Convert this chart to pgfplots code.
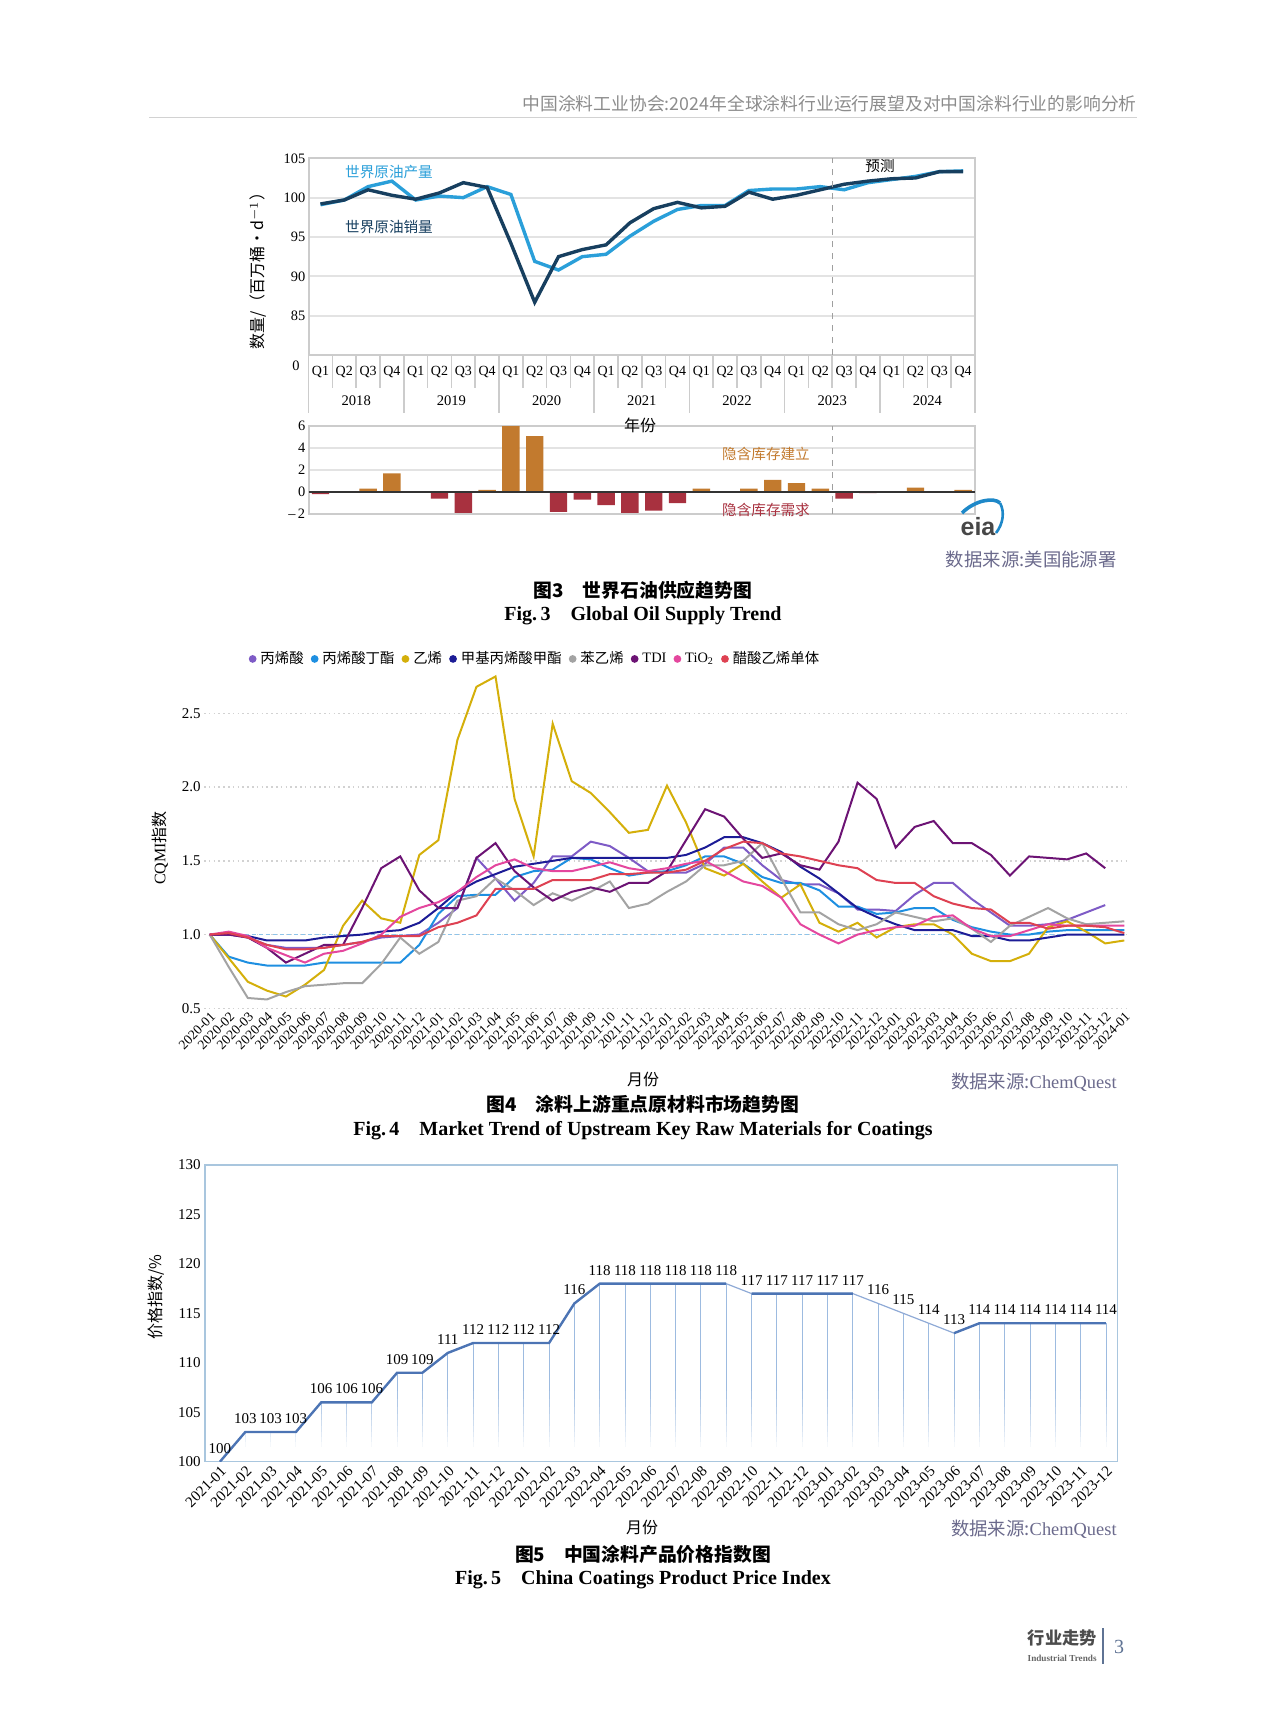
\documentclass[border=0pt]{standalone}
\usepackage{pgfplots}
\pgfplotsset{compat=1.18}
\usepackage{pgfplotstable}
\usepackage{fontspec}
\setmainfont{Liberation Serif}
\newfontfamily\cjk{Noto Sans CJK SC}
\newfontfamily\lsans{Liberation Sans}
\definecolor{hdrgray}{HTML}{8C8C8C}
\definecolor{hdrline}{HTML}{D2D2D2}
\definecolor{prodblue}{HTML}{2A9FD9}
\definecolor{consblue}{HTML}{173F5F}
\definecolor{orangebar}{HTML}{C27A2E}
\definecolor{redbar}{HTML}{A8313F}
\definecolor{srccol}{HTML}{6B6A8C}
\definecolor{cacr}{HTML}{7E5BC6}
\definecolor{cba}{HTML}{1E8FE1}
\definecolor{ceth}{HTML}{D4AF0A}
\definecolor{cmma}{HTML}{1C1C96}
\definecolor{csty}{HTML}{A3A3A3}
\definecolor{ctdi}{HTML}{6C1374}
\definecolor{ctio}{HTML}{E4479E}
\definecolor{cvam}{HTML}{DE4152}
\definecolor{refblue}{HTML}{8EC4EA}
\definecolor{fvframe}{HTML}{A9C6DE}
\definecolor{fvline}{HTML}{4C74B4}
\definecolor{fvthin}{HTML}{8FAAD6}
\definecolor{fvcomb}{HTML}{9DBBE0}
\definecolor{eiablue}{HTML}{1E88C8}
\definecolor{footbar}{HTML}{5F7394}

\pgfplotstableread{
m acr ba eth mma sty tdi tio vam
0 1.00 1.00 1.00 1.00 1.00 1.00 1.00 1.00
1 1.00 0.85 0.84 1.00 0.78 1.00 1.02 1.01
2 0.98 0.81 0.68 0.99 0.57 0.98 0.99 0.98
3 0.93 0.79 0.62 0.96 0.56 0.91 0.91 0.93
4 0.91 0.79 0.58 0.96 0.61 0.81 0.86 0.90
5 0.91 0.79 0.66 0.96 0.65 0.87 0.81 0.90
6 0.91 0.81 0.76 0.98 0.66 0.93 0.87 0.91
7 0.93 0.81 1.06 0.99 0.67 0.93 0.89 0.93
8 0.95 0.81 1.23 1.00 0.67 1.18 0.94 0.95
9 0.98 0.81 1.11 1.02 0.80 1.45 1.00 0.99
10 0.99 0.81 1.08 1.03 0.98 1.53 1.12 0.99
11 1.00 0.93 1.54 1.08 0.87 1.30 1.18 0.99
12 1.08 1.14 1.64 1.18 0.95 1.18 1.22 1.05
13 1.18 1.26 2.32 1.29 1.23 1.18 1.29 1.08
14 1.52 1.27 2.68 1.36 1.26 1.52 1.39 1.13
15 1.38 1.27 2.75 1.41 1.38 1.62 1.47 1.31
16 1.23 1.39 1.92 1.46 1.30 1.43 1.51 1.31
17 1.35 1.43 1.53 1.48 1.20 1.32 1.45 1.31
18 1.53 1.44 2.43 1.50 1.28 1.23 1.43 1.37
19 1.53 1.52 2.04 1.52 1.23 1.29 1.43 1.37
20 1.63 1.51 1.96 1.52 1.29 1.32 1.46 1.37
21 1.60 1.45 1.83 1.52 1.36 1.29 1.49 1.41
22 1.52 1.40 1.69 1.52 1.18 1.35 1.45 1.41
23 1.43 1.42 1.71 1.52 1.21 1.35 1.43 1.42
24 1.42 1.43 2.01 1.52 1.29 1.43 1.45 1.42
25 1.42 1.47 1.76 1.54 1.36 1.64 1.48 1.44
26 1.48 1.53 1.45 1.59 1.47 1.85 1.50 1.50
27 1.59 1.53 1.40 1.66 1.47 1.80 1.43 1.58
28 1.59 1.48 1.48 1.66 1.50 1.65 1.36 1.63
29 1.47 1.39 1.36 1.62 1.62 1.52 1.33 1.62
30 1.37 1.35 1.25 1.56 1.38 1.55 1.25 1.55
31 1.34 1.35 1.34 1.46 1.15 1.47 1.07 1.53
32 1.34 1.30 1.08 1.38 1.15 1.44 1.00 1.50
33 1.28 1.19 1.02 1.28 1.07 1.63 0.94 1.47
34 1.17 1.19 1.08 1.18 1.03 2.03 1.00 1.45
35 1.17 1.14 0.98 1.12 1.07 1.92 1.03 1.37
36 1.16 1.15 1.05 1.07 1.15 1.59 1.05 1.35
37 1.27 1.18 1.07 1.03 1.12 1.73 1.06 1.35
38 1.35 1.18 1.07 1.03 1.09 1.77 1.12 1.26
39 1.35 1.10 1.00 1.03 1.11 1.62 1.13 1.21
40 1.24 1.05 0.87 0.99 1.04 1.62 1.04 1.18
41 1.15 1.02 0.82 0.99 0.95 1.54 0.99 1.17
42 1.06 1.00 0.82 0.96 1.06 1.40 0.99 1.08
43 1.06 1.00 0.87 0.96 1.12 1.53 1.03 1.08
44 1.07 1.02 1.05 0.98 1.18 1.52 1.07 1.04
45 1.10 1.03 1.09 1.00 1.11 1.51 1.06 1.06
46 1.15 1.03 1.02 1.00 1.07 1.55 1.06 1.06
47 1.20 1.03 0.94 1.00 1.08 1.45 1.06 1.05
48 nan 1.03 0.96 1.00 1.09 nan 1.06 1.01
}\fourdata

\pgfplotstableread{
m v
0 100
1 103
2 103
3 103
4 106
5 106
6 106
7 109
8 109
9 111
10 112
11 112
12 112
13 112
14 116
15 118
16 118
17 118
18 118
19 118
20 118
21 117
22 117
23 117
24 117
25 117
26 116
27 115
28 114
29 113
30 114
31 114
32 114
33 114
34 114
35 114
}\fivedata

\pgfplotsset{/pgf/number format/assume math mode=true}

\begin{document}
\begin{tikzpicture}[x=0.5pt,y=-0.5pt]
\useasboundingbox (0,0) rectangle (1280,1724);

% header
\node[anchor=east, inner sep=0, text=hdrgray, font=\cjk\fontsize{8.9}{10}\selectfont] at (1137,104) {中国涂料工业协会:2024年全球涂料行业运行展望及对中国涂料行业的影响分析};
\draw[hdrline, line width=0.8pt] (149,117.5) -- (1137,117.5);

% ===== Fig 3 top =====
\coordinate (f3a) at (308.6,355);
\begin{axis}[at={(f3a)}, anchor=south west, scale only axis,
  width=333.2pt, height=98.35pt,
  xmin=0, xmax=28, ymin=80, ymax=105,
  ytick={85,90,95,100,105}, xtick=\empty,
  ymajorgrids, grid style={gray!22, line width=1.1pt},
  axis line style={gray!40, line width=0.9pt},
  major tick style={draw=none},
  yticklabel style={font=\fontsize{7.2}{8}\selectfont, inner sep=1.5pt},
  clip=false]
\addplot[prodblue, line width=1.7pt] coordinates {
(0.5,99.1)(1.5,99.7)(2.5,101.4)(3.5,102.1)(4.5,99.7)(5.5,100.2)(6.5,100.0)(7.5,101.4)
(8.5,100.4)(9.5,91.9)(10.5,90.8)(11.5,92.5)(12.5,92.8)(13.5,95.1)(14.5,97.0)(15.5,98.5)
(16.5,99.0)(17.5,99.0)(18.5,100.9)(19.5,101.1)(20.5,101.1)(21.5,101.4)(22.5,101.0)(23.5,101.9)
(24.5,102.3)(25.5,102.7)(26.5,103.3)(27.5,103.4)};
\addplot[consblue, line width=1.7pt] coordinates {
(0.5,99.2)(1.5,99.7)(2.5,101.0)(3.5,100.3)(4.5,99.8)(5.5,100.6)(6.5,101.9)(7.5,101.3)
(8.5,94.2)(9.5,86.7)(10.5,92.5)(11.5,93.4)(12.5,94.0)(13.5,96.8)(14.5,98.6)(15.5,99.4)
(16.5,98.7)(17.5,98.9)(18.5,100.7)(19.5,99.8)(20.5,100.3)(21.5,101.0)(22.5,101.7)(23.5,102.1)
(24.5,102.4)(25.5,102.5)(26.5,103.3)(27.5,103.3)};
\draw[gray!75, dashed, line width=0.6pt] (axis cs:22,80) -- (axis cs:22,105);
\end{axis}
% quarter / year rows
\foreach \k in {0,...,28} {\draw[gray!40, line width=0.8pt] ({308.6+23.8*\k},355) -- ({308.6+23.8*\k},388);}
\foreach \k in {0,4,...,28} {\draw[gray!40, line width=0.8pt] ({308.6+23.8*\k},355) -- ({308.6+23.8*\k},413);}
\foreach \k in {1,...,28} {\pgfmathtruncatemacro\q{mod(\k-1,4)+1}
  \node[font=\fontsize{7}{8}\selectfont, inner sep=0] at ({308.6+23.8*(\k-0.5)},372) {Q\q};}
\foreach \yr [count=\j] in {2018,2019,2020,2021,2022,2023,2024}
  {\node[font=\fontsize{7.3}{8}\selectfont, inner sep=0] at ({308.6+95.2*(\j-0.5)},401) {\yr};}
\node[font=\fontsize{7.2}{8}\selectfont, inner sep=0] at (296,366) {0};
\node[rotate=90, font=\cjk\fontsize{8}{9}\selectfont, inner sep=0] at (258,267) {数量/（百万桶·d$^{-1}$）};
\node[font=\cjk\fontsize{7.3}{8}\selectfont, text=prodblue, inner sep=0] at (389,172) {世界原油产量};
\node[font=\cjk\fontsize{7.3}{8}\selectfont, text=consblue, inner sep=0] at (389,227) {世界原油销量};
\node[font=\cjk\fontsize{7.3}{8}\selectfont, inner sep=0] at (880,166) {预测};

% ===== Fig 3 bars =====
\coordinate (f3b) at (308.6,514);
\begin{axis}[at={(f3b)}, anchor=south west, scale only axis,
  width=333.2pt, height=43.95pt,
  xmin=0, xmax=28, ymin=-2, ymax=6,
  ytick={-2,0,2,4,6}, yticklabels={–\,2,0,2,4,6}, xtick=\empty,
  ymajorgrids, grid style={gray!22, line width=1.1pt},
  axis line style={gray!40, line width=0.9pt},
  major tick style={draw=none},
  yticklabel style={font=\fontsize{7.2}{8}\selectfont, inner sep=1.5pt},
  clip=false]
\addplot[ybar, bar width=8.7pt, bar shift=0pt, fill=orangebar, draw=none] coordinates {
(2.5,0.3)(3.5,1.7)(7.5,0.2)(8.5,6.0)(9.5,5.1)(16.5,0.3)(18.5,0.3)(19.5,1.1)(20.5,0.8)(21.5,0.3)(25.5,0.4)(27.5,0.2)};
\addplot[ybar, bar width=8.7pt, bar shift=0pt, fill=redbar, draw=none] coordinates {
(0.5,-0.2)(5.5,-0.6)(6.5,-1.9)(10.5,-1.8)(11.5,-0.7)(12.5,-1.2)(13.5,-1.9)(14.5,-1.7)(15.5,-1.0)(22.5,-0.6)(23.5,-0.1)};
\draw[black!80, line width=1.1pt] (axis cs:0,0) -- (axis cs:28,0);
\draw[gray!75, dashed, line width=0.6pt] (axis cs:22,-2) -- (axis cs:22,6);
\end{axis}
\node[font=\cjk\fontsize{8}{9}\selectfont, inner sep=0] at (640,425) {年份};
\node[font=\cjk\fontsize{7.3}{8}\selectfont, text=orangebar, inner sep=0] at (766,454) {隐含库存建立};
\node[font=\cjk\fontsize{7.3}{8}\selectfont, text=redbar, inner sep=0] at (766,510) {隐含库存需求};
% eia logo
\node[font=\lsans\bfseries\fontsize{12.5}{12.5}\selectfont, text=black!72, inner sep=0] at (978,527) {eia};
\draw[eiablue, line width=1.8pt] (962,513) .. controls (975,500) and (994,497) .. (1000,503);
\draw[eiablue, line width=1.3pt] (1000,503) .. controls (1005,512) and (1003,524) .. (996,533);
% source + caption
\node[anchor=east, font=\cjk\fontsize{9.2}{10}\selectfont, text=srccol, inner sep=0] at (1117,559) {数据来源:美国能源署};
\node[font=\cjk\bfseries\fontsize{9.4}{10}\selectfont, inner sep=0] at (643,590) {图3\quad 世界石油供应趋势图};
\node[font=\bfseries\fontsize{10}{11}\selectfont, inner sep=0] at (643,616) {Fig.\,3\quad Global Oil Supply Trend};

% ===== Fig 4 =====
\coordinate (f4) at (204,1008.3);
\begin{axis}[at={(f4)}, anchor=south west, scale only axis,
  width=463pt, height=169.6pt,
  xmin=-0.3, xmax=48.3, ymin=0.5, ymax=2.8,
  ytick={0.5,1,1.5,2,2.5},
  yticklabel style={font=\fontsize{7.5}{8}\selectfont, inner sep=1.5pt, /pgf/number format/.cd, fixed, fixed zerofill, precision=1},
  xtick={0,...,48},
  xticklabels={2020-01,2020-02,2020-03,2020-04,2020-05,2020-06,2020-07,2020-08,2020-09,2020-10,2020-11,2020-12,
    2021-01,2021-02,2021-03,2021-04,2021-05,2021-06,2021-07,2021-08,2021-09,2021-10,2021-11,2021-12,
    2022-01,2022-02,2022-03,2022-04,2022-05,2022-06,2022-07,2022-08,2022-09,2022-10,2022-11,2022-12,
    2023-01,2023-02,2023-03,2023-04,2023-05,2023-06,2023-07,2023-08,2023-09,2023-10,2023-11,2023-12,2024-01},
  xticklabel style={rotate=45, anchor=north east, font=\fontsize{6.8}{7}\selectfont, inner sep=1pt},
  ymajorgrids, grid style={gray!35, line width=0.7pt, dash pattern=on 0.8pt off 1.6pt},
  axis line style={draw=none}, major tick style={draw=none},
  legend columns=-1,
  legend style={at={(0.048,1.03)}, anchor=west, draw=none, fill=none, inner sep=0pt,
    font=\fontsize{7.2}{8}\selectfont, /tikz/every even column/.append style={column sep=1.6pt}},
  legend image code/.code={\fill[#1] (0.3em,0pt) circle (1.4pt);},
  legend cell align=left]
\draw[refblue, line width=0.9pt, dash pattern=on 2pt off 1.5pt] (axis cs:0,1) -- (axis cs:48,1);
\addplot[cacr, line width=1pt] table[x=m, y=acr] {\fourdata};
\addlegendentry{\cjk 丙烯酸}
\addplot[cba, line width=1pt] table[x=m, y=ba] {\fourdata};
\addlegendentry{\cjk 丙烯酸丁酯}
\addplot[ceth, line width=1pt] table[x=m, y=eth] {\fourdata};
\addlegendentry{\cjk 乙烯}
\addplot[cmma, line width=1pt] table[x=m, y=mma] {\fourdata};
\addlegendentry{\cjk 甲基丙烯酸甲酯}
\addplot[csty, line width=1pt] table[x=m, y=sty] {\fourdata};
\addlegendentry{\cjk 苯乙烯}
\addplot[ctdi, line width=1pt] table[x=m, y=tdi] {\fourdata};
\addlegendentry{TDI}
\addplot[ctio, line width=1pt] table[x=m, y=tio] {\fourdata};
\addlegendentry{TiO\textsubscript{2}}
\addplot[cvam, line width=1pt] table[x=m, y=vam] {\fourdata};
\addlegendentry{\cjk 醋酸乙烯单体}
\end{axis}
\node[rotate=90, font=\fontsize{8}{9}\selectfont, inner sep=0] at (160,848) {CQMI{\cjk 指数}};
\node[font=\cjk\fontsize{8}{9}\selectfont, inner sep=0] at (643,1079) {月份};
\node[anchor=east, font=\fontsize{9.2}{10}\selectfont, text=srccol, inner sep=0] at (1117,1082) {{\cjk 数据来源:}ChemQuest};
\node[font=\cjk\bfseries\fontsize{9.4}{10}\selectfont, inner sep=0] at (643,1104) {图4\quad 涂料上游重点原材料市场趋势图};
\node[font=\bfseries\fontsize{10}{11}\selectfont, inner sep=0] at (643,1131) {Fig.\,4\quad Market Trend of Upstream Key Raw Materials for Coatings};

% ===== Fig 5 =====
\coordinate (f5) at (205,1461.7);
% layer 1: drop lines only
\begin{axis}[at={(f5)}, anchor=south west, scale only axis,
  width=456.3pt, height=148.35pt,
  xmin=-0.59, xmax=35.46, ymin=100, ymax=130, hide axis]
\addplot[ycomb, fvcomb, line width=0.45pt] table[x=m, y=v] {\fivedata};
\end{axis}
% fade of the drop lines toward the base
\path[fill=white] (206,1461) rectangle (1116,1446.9);
\path[fill=white, fill opacity=0.9] (206,1446.9) rectangle (1116,1441.9);
\path[fill=white, fill opacity=0.8] (206,1441.9) rectangle (1116,1437.0);
\path[fill=white, fill opacity=0.7] (206,1437.0) rectangle (1116,1432.0);
\path[fill=white, fill opacity=0.6] (206,1432.0) rectangle (1116,1426.1);
\path[fill=white, fill opacity=0.5] (206,1426.1) rectangle (1116,1420.2);
\path[fill=white, fill opacity=0.4] (206,1420.2) rectangle (1116,1414.2);
\path[fill=white, fill opacity=0.3] (206,1414.2) rectangle (1116,1407.3);
\path[fill=white, fill opacity=0.2] (206,1407.3) rectangle (1116,1399.4);
\path[fill=white, fill opacity=0.1] (206,1399.4) rectangle (1116,1390.5);
% layer 2: frame, line and labels
\begin{axis}[at={(f5)}, anchor=south west, scale only axis,
  width=456.3pt, height=148.35pt,
  xmin=-0.59, xmax=35.46, ymin=100, ymax=130,
  ytick={100,105,110,115,120,125,130},
  yticklabel style={font=\fontsize{7.5}{8}\selectfont, inner sep=2pt},
  xtick={0,...,35},
  xticklabels={2021-01,2021-02,2021-03,2021-04,2021-05,2021-06,2021-07,2021-08,2021-09,2021-10,2021-11,2021-12,
    2022-01,2022-02,2022-03,2022-04,2022-05,2022-06,2022-07,2022-08,2022-09,2022-10,2022-11,2022-12,
    2023-01,2023-02,2023-03,2023-04,2023-05,2023-06,2023-07,2023-08,2023-09,2023-10,2023-11,2023-12},
  xticklabel style={rotate=45, anchor=north east, font=\fontsize{7.6}{8}\selectfont, inner sep=1pt},
  axis line style={fvframe, line width=0.7pt}, major tick style={draw=none}]
\addplot[fvthin, line width=0.6pt] table[x=m, y=v] {\fivedata};
\addplot[fvline, line width=1.2pt, unbounded coords=jump] coordinates {
(0,100)(1,103)(2,103)(3,103)(4,106)(5,106)(6,106)(7,109)(8,109)(9,111)(10,112)(11,112)(12,112)(13,112)
(14,116)(15,118)(16,118)(17,118)(18,118)(19,118)(20,118)(20.5,nan)(21,117)(22,117)(23,117)(24,117)(25,117)(26,nan)
(29,113)(30,114)(31,114)(32,114)(33,114)(34,114)(35,114)};
\addplot[draw=none, nodes near coords,
  nodes near coords style={font=\fontsize{7.5}{8}\selectfont, text=black, anchor=south, yshift=3pt, inner sep=1pt}]
  table[x=m, y=v] {\fivedata};
\end{axis}
\node[rotate=90, font=\cjk\fontsize{8}{9}\selectfont, inner sep=0] at (156,1297) {价格指数/\%};
\node[font=\cjk\fontsize{8}{9}\selectfont, inner sep=0] at (642,1527) {月份};
\node[anchor=east, font=\fontsize{9.2}{10}\selectfont, text=srccol, inner sep=0] at (1117,1529) {{\cjk 数据来源:}ChemQuest};
\node[font=\cjk\bfseries\fontsize{9.4}{10}\selectfont, inner sep=0] at (643,1554) {图5\quad 中国涂料产品价格指数图};
\node[font=\bfseries\fontsize{10}{11}\selectfont, inner sep=0] at (643,1580) {Fig.\,5\quad China Coatings Product Price Index};

% footer
\node[anchor=east, font=\cjk\bfseries\fontsize{8.6}{9}\selectfont, text=black!70, inner sep=0] at (1097,1638) {行业走势};
\node[anchor=east, font=\bfseries\fontsize{4.6}{5}\selectfont, text=black!60, inner sep=0] at (1097,1658) {Industrial Trends};
\draw[footbar, line width=1pt] (1103,1628) -- (1103,1664);
\node[font=\fontsize{10}{11}\selectfont, text=footbar, inner sep=0] at (1119,1647) {3};
\end{tikzpicture}
\end{document}
